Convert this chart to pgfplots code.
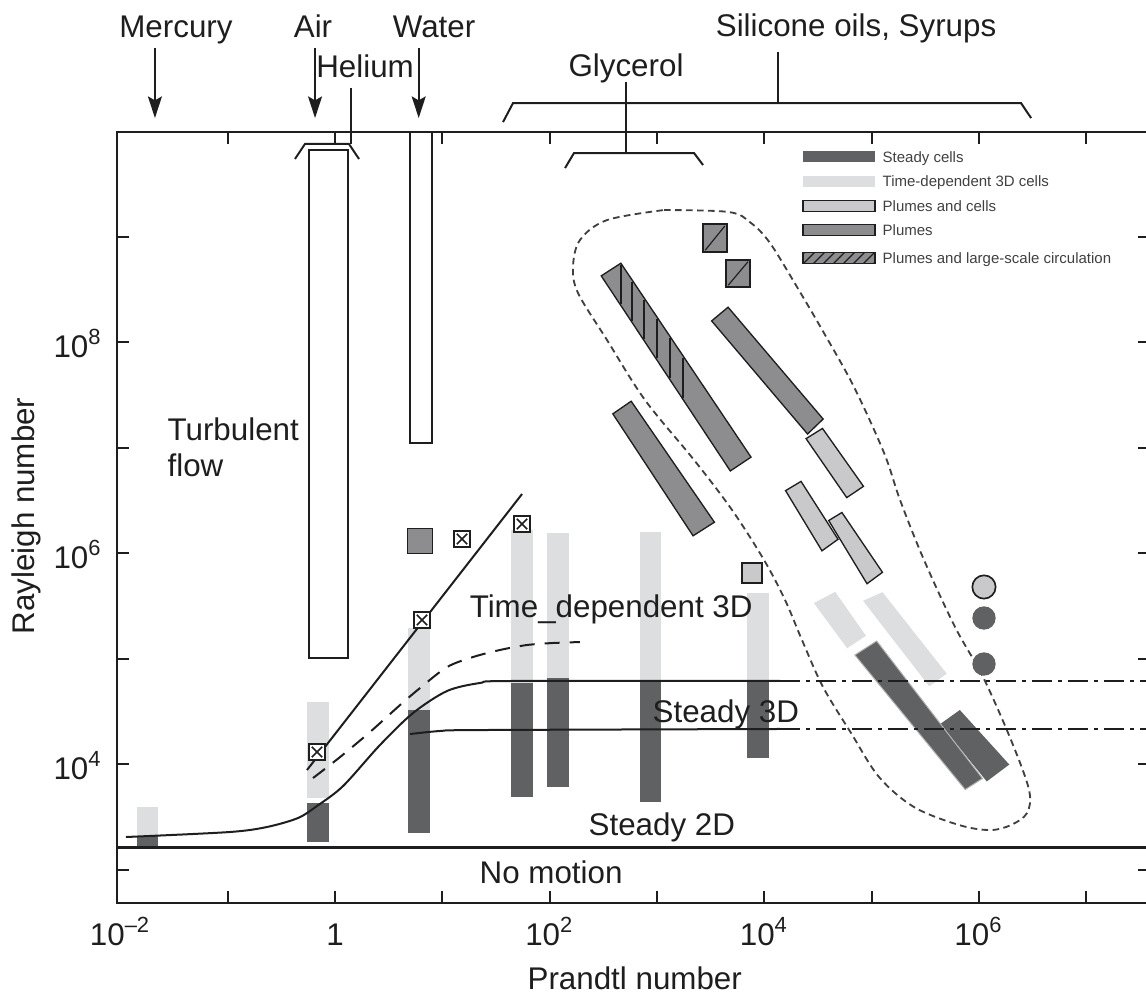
\documentclass[border=0pt]{standalone}
\usepackage{fontspec}
\setmainfont{Liberation Sans}
\usepackage{pgfplots}
\pgfplotsset{compat=1.18}
\usetikzlibrary{arrows.meta,patterns}

\definecolor{ink}{HTML}{1E1E1E}
\definecolor{steady}{HTML}{606163}
\definecolor{tdep}{HTML}{DCDEE0}
\definecolor{plume}{HTML}{8D8D8F}
\definecolor{plcell}{HTML}{C9C9CB}

\newcommand{\lab}{\fontsize{9.4}{10.5}\selectfont}
\newcommand{\leg}{\fontsize{4.5}{5}\selectfont}

\begin{document}
\begin{tikzpicture}
\begin{axis}[
  scale only axis,
  width=309.9pt, height=231.3pt,
  xmin=-2.032, xmax=7.596, ymin=2.682, ymax=9.991,
  clip=false,
  axis line style={line width=0.6pt, ink},
  tick style={line width=0.6pt, ink},
  tick align=inside,
  major tick length=3.6pt,
  xtick={-1,0,...,7},
  xticklabels={,1,,10\textsuperscript{2},,10\textsuperscript{4},,10\textsuperscript{6},},
  extra x ticks={-2},
  extra x tick labels={10\textsuperscript{–2}},
  extra x tick style={major tick length=0pt},
  ytick={3,...,9},
  yticklabels={,10\textsuperscript{4},,10\textsuperscript{6},,10\textsuperscript{8},},
  /pgf/number format/assume math mode=true,
  tick label style={font=\lab, inner sep=0pt, text=ink},
  xticklabel style={anchor=base, yshift=-12.6pt},
  yticklabel style={anchor=base east, xshift=-4.2pt, yshift=-4.5pt},
]
\coordinate (bbsw) at (axis cs:-3.122,1.792);
\coordinate (bbne) at (axis cs:7.558,11.242);

% time-dependent 3D cells (light vertical bars)
\addplot[fill=tdep, draw=none] coordinates {(-1.845,3.318) (-1.650,3.318) (-1.650,3.592) (-1.845,3.592)} -- cycle;
\addplot[fill=tdep, draw=none] coordinates {(-0.261,3.678) (-0.056,3.678) (-0.056,4.588) (-0.261,4.588)} -- cycle;
\addplot[fill=tdep, draw=none] coordinates {(0.680,4.512) (0.885,4.512) (0.885,5.289) (0.680,5.289)} -- cycle;
\addplot[fill=tdep, draw=none] coordinates {(1.640,4.768) (1.845,4.768) (1.845,6.218) (1.640,6.218)} -- cycle;
\addplot[fill=tdep, draw=none] coordinates {(1.976,4.815) (2.181,4.815) (2.181,6.190) (1.976,6.190)} -- cycle;
\addplot[fill=tdep, draw=none] coordinates {(2.842,4.796) (3.038,4.796) (3.038,6.199) (2.842,6.199)} -- cycle;
\addplot[fill=tdep, draw=none] coordinates {(3.840,4.796) (4.045,4.796) (4.045,5.621) (3.840,5.621)} -- cycle;

% steady cells (dark vertical bars)
\addplot[fill=steady, draw=none] coordinates {(-1.845,3.204) (-1.650,3.204) (-1.650,3.318) (-1.845,3.318)} -- cycle;
\addplot[fill=steady, draw=none] coordinates {(-0.261,3.261) (-0.056,3.261) (-0.056,3.630) (-0.261,3.630)} -- cycle;
\addplot[fill=steady, draw=none] coordinates {(0.680,3.346) (0.885,3.346) (0.885,4.512) (0.680,4.512)} -- cycle;
\addplot[fill=steady, draw=none] coordinates {(1.640,3.687) (1.845,3.687) (1.845,4.768) (1.640,4.768)} -- cycle;
\addplot[fill=steady, draw=none] coordinates {(1.976,3.782) (2.181,3.782) (2.181,4.815) (1.976,4.815)} -- cycle;
\addplot[fill=steady, draw=none] coordinates {(2.842,3.640) (3.038,3.640) (3.038,4.796) (2.842,4.796)} -- cycle;
\addplot[fill=steady, draw=none] coordinates {(3.840,4.057) (4.045,4.057) (4.045,4.796) (3.840,4.796)} -- cycle;

% tilted bars, high Prandtl number
\addplot[fill=tdep, draw=none] coordinates {(4.463,5.525) (4.661,5.632) (4.948,5.216) (4.773,5.097)} -- cycle;
\addplot[fill=tdep, draw=none] coordinates {(4.921,5.547) (5.102,5.629) (5.701,4.856) (5.538,4.737)} -- cycle;
\addplot[fill=steady, draw=none] coordinates {(5.640,4.379) (5.823,4.512) (6.284,3.995) (6.074,3.835)} -- cycle;
\addplot[fill=steady, draw=gray!60, line width=0.3pt] coordinates {(4.845,5.033) (5.048,5.166) (6.034,3.863) (5.873,3.758)} -- cycle;

\addplot[fill=plcell, draw=ink, line width=0.4pt] coordinates {(4.390,7.084) (4.543,7.181) (4.925,6.632) (4.769,6.525)} -- cycle;
\addplot[fill=plcell, draw=ink, line width=0.4pt] coordinates {(4.199,6.591) (4.343,6.679) (4.688,6.130) (4.538,6.021)} -- cycle;
\addplot[fill=plcell, draw=ink, line width=0.4pt] coordinates {(4.601,6.308) (4.724,6.384) (5.102,5.817) (4.958,5.709)} -- cycle;

\addplot[fill=plume, draw=ink, line width=0.4pt] coordinates {(2.481,8.627) (2.664,8.747) (3.877,6.909) (3.684,6.778)} -- cycle;
\addplot[fill=plume, draw=ink, line width=0.4pt] coordinates {(3.510,8.200) (3.663,8.330) (4.549,7.270) (4.404,7.128)} -- cycle;
\addplot[fill=plume, draw=ink, line width=0.4pt] coordinates {(2.589,7.319) (2.760,7.439) (3.536,6.292) (3.337,6.163)} -- cycle;

% hatching (large-scale circulation)
\addplot[ink, line width=0.35pt, unbounded coords=jump] coordinates {
  (2.665,8.727) (2.665,8.360) (2.7,nan)
  (2.768,8.572) (2.768,8.202) (2.8,nan)
  (2.880,8.402) (2.880,8.030) (2.9,nan)
  (3.001,8.218) (3.001,7.844) (3.05,nan)
  (3.122,8.035) (3.122,7.658) (3.15,nan)
  (3.243,7.851) (3.243,7.472)};

\addplot[fill=plume, draw=ink, line width=0.4pt] coordinates {(3.430,8.853) (3.653,8.853) (3.653,9.118) (3.430,9.118)} -- cycle;
\addplot[ink, line width=0.35pt] coordinates {(3.450,8.870) (3.633,9.100)};
\addplot[fill=plume, draw=ink, line width=0.4pt] coordinates {(3.644,8.521) (3.868,8.521) (3.868,8.777) (3.644,8.777)} -- cycle;
\addplot[ink, line width=0.35pt] coordinates {(3.664,8.538) (3.848,8.760)};

% dashed envelope
\addplot[ink!85, line width=0.55pt, dash pattern=on 2pt off 1.3pt, smooth, tension=0.55] coordinates {
  (3.066,9.251) (3.672,9.232) (3.877,9.128) (4.054,8.938) (4.306,8.521) (4.557,8.085)
  (4.837,7.573) (5.117,6.948) (5.266,6.502) (5.489,5.934) (5.778,5.299) (6.039,4.825)
  (6.300,4.227) (6.468,3.754) (6.449,3.536) (6.300,3.422) (6.104,3.374) (5.815,3.422)
  (5.396,3.592) (5.070,3.877) (4.809,4.294) (4.548,4.730) (4.352,5.175) (4.194,5.555)
  (3.998,5.934) (3.700,6.408) (3.346,6.882) (2.889,7.450) (2.535,8.019) (2.265,8.464)
  (2.218,8.711) (2.283,8.967) (2.535,9.156) (3.066,9.251)};

% regime boundaries
\addplot[ink, line width=0.9pt] coordinates {(-2.032,3.21) (7.596,3.21)};
\addplot[ink, line width=0.6pt, smooth, tension=0.5] coordinates {
  (-1.948,3.308) (-0.988,3.355) (-0.634,3.403) (-0.345,3.488) (-0.168,3.602)
  (0.075,3.791) (0.419,4.180) (0.727,4.483) (1.044,4.692) (1.351,4.768)
  (1.659,4.787) (4.147,4.787)};
\addplot[ink, line width=0.6pt, smooth, tension=0.5] coordinates {
  (0.699,4.284) (0.979,4.313) (1.351,4.322) (4.147,4.332)};
\addplot[ink, line width=0.6pt, dash pattern=on 6pt off 1.8pt on 1.2pt off 1.8pt] coordinates {(4.147,4.787) (7.596,4.787)};
\addplot[ink, line width=0.6pt, dash pattern=on 6pt off 1.8pt on 1.2pt off 1.8pt] coordinates {(4.147,4.332) (7.596,4.332)};
\addplot[ink, line width=0.6pt, dash pattern=on 4.5pt off 3pt, smooth, tension=0.5] coordinates {
  (-0.205,3.867) (0.047,4.066) (0.326,4.303) (0.606,4.559) (0.792,4.720)
  (1.044,4.919) (1.286,5.014) (1.538,5.081) (1.789,5.128) (2.032,5.147) (2.283,5.156)};
\addplot[ink, line width=0.6pt] coordinates {(-0.261,3.943) (1.743,6.559)};

% turbulence ranges (open boxes)
\addplot[draw=ink, fill=white, line width=0.6pt] coordinates {(-0.242,5.005) (0.121,5.005) (0.121,9.820) (-0.242,9.820)} -- cycle;
\addplot[draw=ink, fill=white, line width=0.6pt] coordinates {(0.699,7.043) (0.904,7.043) (0.904,9.991) (0.699,9.991)} -- cycle;

% point observations
\addplot[only marks, mark=square*, mark size=2.4pt, mark options={fill=white, draw=ink, line width=0.6pt}] coordinates {(-0.168,4.114) (0.811,5.365) (1.184,6.133) (1.743,6.275)};
\addplot[only marks, mark=x, mark size=2.2pt, mark options={draw=ink, line width=0.5pt}] coordinates {(-0.168,4.114) (0.811,5.365) (1.184,6.133) (1.743,6.275)};
\addplot[only marks, mark=square*, mark size=3.75pt, mark options={fill=plume, draw=ink, line width=0.5pt}] coordinates {(0.792,6.114)};
\addplot[only marks, mark=square*, mark size=3pt, mark options={fill=plcell, draw=ink, line width=0.5pt}] coordinates {(3.886,5.810)};
\addplot[only marks, mark=*, mark size=3.5pt, mark options={fill=plcell, draw=ink, line width=0.5pt}] coordinates {(6.048,5.678)};
\addplot[only marks, mark=*, mark size=3.3pt, mark options={fill=steady, draw=steady}] coordinates {(6.048,5.384) (6.048,4.948)};

% legend
\fill[steady] (axis cs:4.362,9.702) rectangle (axis cs:5.033,9.806);
\fill[tdep] (axis cs:4.362,9.474) rectangle (axis cs:5.033,9.578);
\filldraw[fill=plcell, draw=ink, line width=0.4pt] (axis cs:4.362,9.237) rectangle (axis cs:5.033,9.341);
\filldraw[fill=plume, draw=ink, line width=0.4pt] (axis cs:4.362,9.010) rectangle (axis cs:5.033,9.114);
\filldraw[fill=plume, draw=ink, line width=0.4pt, postaction={pattern=north east lines, pattern color=ink}] (axis cs:4.362,8.744) rectangle (axis cs:5.033,8.848);
\begin{scope}[every node/.style={font=\leg, anchor=base west, inner sep=0pt, text=ink!85}]
\node at (axis cs:5.098,9.702) {Steady cells};
\node at (axis cs:5.098,9.475) {Time-dependent 3D cells};
\node at (axis cs:5.098,9.238) {Plumes and cells};
\node at (axis cs:5.098,9.010) {Plumes};
\node at (axis cs:5.098,8.745) {Plumes and large-scale circulation};
\end{scope}

% regime labels
\begin{scope}[every node/.style={font=\lab, inner sep=0pt, text=ink}]
\node[anchor=base west] at (axis cs:-1.566,7.071) {Turbulent};
\node[anchor=base west] at (axis cs:-1.566,6.730) {flow};
\node[anchor=base west] at (axis cs:1.250,5.393) {Time\_dependent 3D};
\node[anchor=base west] at (axis cs:2.954,4.389) {Steady 3D};
\node[anchor=base west] at (axis cs:2.358,3.318) {Steady 2D};
\node[anchor=base west] at (axis cs:1.342,2.863) {No motion};
\node[anchor=base west] at (axis cs:1.789,1.858) {Prandtl number};
\node[anchor=base, rotate=90] at (axis cs:-2.796,6.351) {Rayleigh number};
% fluids above the frame
\node[anchor=base] at (axis cs:-1.482,10.891) {Mercury};
\node[anchor=base] at (axis cs:-0.205,10.891) {Air};
\node[anchor=base] at (axis cs:0.923,10.891) {Water};
\node[anchor=base] at (axis cs:0.280,10.512) {Helium};
\node[anchor=base] at (axis cs:2.712,10.521) {Glycerol};
\node[anchor=base] at (axis cs:4.856,10.900) {Silicone oils, Syrups};
\end{scope}

\begin{scope}[ink, line width=0.5pt, -{Stealth[length=6.5pt, width=4.2pt, inset=1.2pt]}]
\draw (axis cs:-1.678,10.787) -- (axis cs:-1.678,10.123);
\draw (axis cs:-0.186,10.787) -- (axis cs:-0.186,10.123);
\draw (axis cs:0.780,10.787) -- (axis cs:0.780,10.123);
\end{scope}
\begin{scope}[ink, line width=0.6pt]
\draw (axis cs:-0.373,9.735) -- (axis cs:-0.280,9.877) -- (axis cs:0.130,9.877) -- (axis cs:0.224,9.735);
\draw (axis cs:0.149,10.408) -- (axis cs:0.149,9.877);
\draw (axis cs:2.712,10.464) -- (axis cs:2.712,9.791);
\draw (axis cs:2.144,9.649) -- (axis cs:2.227,9.791) -- (axis cs:3.346,9.791) -- (axis cs:3.430,9.678);
\draw (axis cs:4.129,10.749) -- (axis cs:4.129,10.265);
\draw (axis cs:1.566,10.085) -- (axis cs:1.659,10.265) -- (axis cs:6.393,10.265) -- (axis cs:6.487,10.123);
\end{scope}
\end{axis}
\pgfresetboundingbox
\useasboundingbox (bbsw) rectangle (bbne);
\end{tikzpicture}
\end{document}
